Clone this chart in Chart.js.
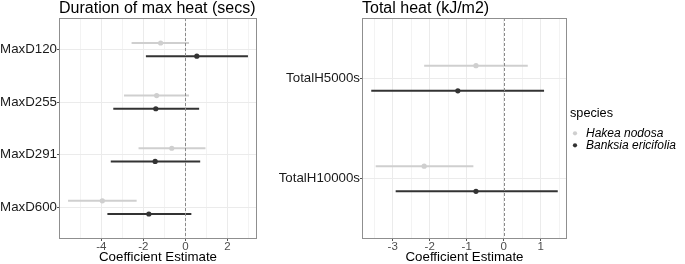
<!DOCTYPE html>
<html lang="en">
  <head>
    <meta charset="UTF-8" />
    <title>Coefficient estimates</title>
    <script src="https://cdn.jsdelivr.net/npm/chart.js@4.4.1/dist/chart.umd.min.js"></script>
    <style>
      html, body { margin: 0; padding: 0; background: #fff; }
      #wrap { position: relative; width: 685px; height: 264px; overflow: hidden; }
      .box { position: absolute; top: 0; height: 264px; }
      #boxMax { left: 0; width: 270px; }
      #boxTot { left: 270px; width: 415px; }
    </style>
  </head>
  <body>
    <div id="wrap">
      <div class="box" id="boxMax"><canvas id="chartMax"></canvas></div>
      <div class="box" id="boxTot"><canvas id="chartTot"></canvas></div>
    </div>

    <script>
      //data
      const rowsMax = ['MaxD120', 'MaxD255', 'MaxD291', 'MaxD600'];
      const hakeaMaxEst = [-1.18, -1.37, -0.65, -3.95];
      const hakeaMaxLo = [-2.56, -2.92, -2.23, -5.58];
      const hakeaMaxHi = [0.17, 0.17, 0.95, -2.32];
      const banksiaMaxEst = [0.54, -1.41, -1.44, -1.74];
      const banksiaMaxLo = [-1.88, -3.43, -3.55, -3.71];
      const banksiaMaxHi = [2.97, 0.65, 0.70, 0.28];

      const rowsTot = ['TotalH5000s', 'TotalH10000s'];
      const hakeaTotEst = [-0.75, -2.15];
      const hakeaTotLo = [-2.15, -3.46];
      const hakeaTotHi = [0.65, -0.82];
      const banksiaTotEst = [-1.24, -0.75];
      const banksiaTotLo = [-3.58, -2.92];
      const banksiaTotHi = [1.09, 1.46];

      const xMajorMax = [-4, -2, 0, 2];
      const xMinorMax = [-5, -3, -1, 1, 3];
      const xMajorTot = [-3, -2, -1, 0, 1];
      const xMinorTot = [-3.5, -2.5, -1.5, -0.5, 0.5, 1.5];

      const LIGHT = '#cfcfcf';
      const DARK = '#333333';
      const DODGE = 0.125;

      Chart.defaults.font.family = "'Liberation Sans', Arial, sans-serif";
      Chart.defaults.animation = false;

      // error bars + zero line + panel border
      const rangePlugin = {
        id: 'ranges',
        beforeDatasetsDraw(chart) {
          const { ctx } = chart;
          const xs = chart.scales.x, ys = chart.scales.y;
          chart.data.datasets.forEach((ds) => {
            ctx.save();
            ctx.strokeStyle = ds.borderColor;
            ctx.lineWidth = 2;
            ds.data.forEach((p, i) => {
              const y = ys.getPixelForValue(p.y);
              ctx.beginPath();
              ctx.moveTo(xs.getPixelForValue(ds.lo[i]), y);
              ctx.lineTo(xs.getPixelForValue(ds.hi[i]), y);
              ctx.stroke();
            });
            ctx.restore();
          });
        },
        afterDatasetsDraw(chart) {
          const { ctx, chartArea } = chart;
          const x0 = Math.round(chart.scales.x.getPixelForValue(0)) + 0.5;
          ctx.save();
          ctx.strokeStyle = '#8a8a8a';
          ctx.lineWidth = 1;
          ctx.setLineDash([3, 2]);
          ctx.beginPath();
          ctx.moveTo(x0, chartArea.top);
          ctx.lineTo(x0, chartArea.bottom);
          ctx.stroke();
          ctx.restore();
        },
        afterDraw(chart) {
          const { ctx, chartArea } = chart;
          ctx.save();
          ctx.strokeStyle = '#8f8f8f';
          ctx.lineWidth = 1;
          ctx.strokeRect(Math.round(chartArea.left) + 0.5, Math.round(chartArea.top) + 0.5,
            Math.round(chartArea.right - chartArea.left) - 1, Math.round(chartArea.bottom - chartArea.top) - 1);
          ctx.restore();
        }
      };

      // nudge the legend a little right of the panel, as ggplot does
      const legendNudge = {
        id: 'legendNudge',
        afterLayout(chart) {
          const lg = chart.legend;
          if (!lg || !chart.options.plugins.legend.display) return;
          const dx = chart.chartArea.right + 3 - lg.left;
          lg.left += dx;
          lg.right = Math.max(lg.right + dx, chart.width);
          lg.top -= 3;
          lg.bottom -= 3;
        }
      };

      function points(est, offset) {
        return est.map((v, i) => ({ x: v, y: i + 1 + offset }));
      }

      function makeConfig(opts) {
        const majors = opts.majors, minors = opts.minors;
        const isMajor = (v) => majors.some((m) => Math.abs(m - v) < 1e-9);
        return {
          type: 'scatter',
          data: {
            datasets: [
              {
                label: 'Hakea nodosa',
                data: points(opts.hEst, -DODGE),
                lo: opts.hLo,
                hi: opts.hHi,
                backgroundColor: LIGHT,
                borderColor: LIGHT,
                pointRadius: 2.6,
                pointBorderWidth: 0
              },
              {
                label: 'Banksia ericifolia',
                data: points(opts.bEst, DODGE),
                lo: opts.bLo,
                hi: opts.bHi,
                backgroundColor: DARK,
                borderColor: DARK,
                pointRadius: 2.6,
                pointBorderWidth: 0
              }
            ]
          },
          options: {
            responsive: true,
            maintainAspectRatio: false,
            events: [],
            layout: { padding: opts.padding },
            plugins: {
              tooltip: { enabled: false },
              title: {
                display: true,
                text: opts.title,
                align: 'start',
                fullSize: false,
                color: '#000',
                font: { size: 16, weight: 'normal', lineHeight: 1 },
                padding: { top: 1, bottom: 1 }
              },
              legend: opts.legend
            },
            scales: {
              x: {
                type: 'linear',
                min: opts.xMin,
                max: opts.xMax,
                afterBuildTicks: (s) => {
                  s.ticks = majors.concat(minors).sort((a, b) => a - b).map((v) => ({ value: v }));
                },
                afterFit: (s) => { s.height = 25; },
                border: { display: false },
                grid: {
                  color: (c) => (isMajor(c.tick.value) ? '#ebebeb' : '#f3f3f3'),
                  lineWidth: 1,
                  tickLength: 2,
                  tickColor: (c) => (isMajor(c.tick.value) ? '#555' : 'rgba(0,0,0,0)')
                },
                ticks: {
                  color: '#4d4d4d',
                  font: { size: 11.5, lineHeight: 1 },
                  padding: 0,
                  maxRotation: 0,
                  autoSkip: false,
                  callback: (v) => (isMajor(v) ? String(v) : '')
                },
                title: {
                  display: true,
                  text: 'Coefficient Estimate',
                  color: '#000',
                  font: { size: 13.3, lineHeight: 1 },
                  padding: 0
                }
              },
              y: {
                type: 'linear',
                reverse: true,
                min: 0.4,
                max: opts.rows.length + 0.6,
                afterBuildTicks: (s) => {
                  s.ticks = opts.rows.map((_, i) => ({ value: i + 1 }));
                },
                afterFit: (s) => { s.width = opts.yWidth; },
                border: { display: false },
                grid: { color: '#ebebeb', lineWidth: 1, tickLength: 2, tickColor: '#555' },
                ticks: {
                  color: '#1a1a1a',
                  font: { size: 13.3 },
                  padding: 0,
                  autoSkip: false,
                  callback: (v) => opts.rows[Math.round(v) - 1]
                }
              }
            }
          },
          plugins: [rangePlugin, legendNudge]
        };
      }

      //init
      const chartMax = new Chart(document.getElementById('chartMax'), makeConfig({
        title: 'Duration of max heat (secs)',
        rows: rowsMax,
        hEst: hakeaMaxEst, hLo: hakeaMaxLo, hHi: hakeaMaxHi,
        bEst: banksiaMaxEst, bLo: banksiaMaxLo, bHi: banksiaMaxHi,
        xMin: -6.01, xMax: 3.40,
        majors: xMajorMax, minors: xMinorMax,
        yWidth: 59,
        padding: { left: 0, right: 13, top: 0, bottom: 0 },
        legend: { display: false }
      }));

      const chartTot = new Chart(document.getElementById('chartTot'), makeConfig({
        title: 'Total heat (kJ/m2)',
        rows: rowsTot,
        hEst: hakeaTotEst, hLo: hakeaTotLo, hHi: hakeaTotHi,
        bEst: banksiaTotEst, bLo: banksiaTotLo, bHi: banksiaTotHi,
        xMin: -3.83, xMax: 1.71,
        majors: xMajorTot, minors: xMinorTot,
        yWidth: 92,
        padding: { left: 0, right: 19, top: 0, bottom: 0 },
        legend: {
          display: true,
          position: 'right',
          align: 'center',
          title: {
            display: true,
            text: 'species',
            position: 'start',
            color: '#000',
            font: { size: 12.7, lineHeight: 1 },
            padding: { top: 0, bottom: 8 }
          },
          labels: {
            usePointStyle: true,
            pointStyle: 'circle',
            boxWidth: 10,
            boxHeight: 3,
            padding: 0,
            color: '#000',
            font: { size: 12, style: 'italic', lineHeight: 0.9 }
          }
        }
      }));
    </script>
  </body>
</html>
